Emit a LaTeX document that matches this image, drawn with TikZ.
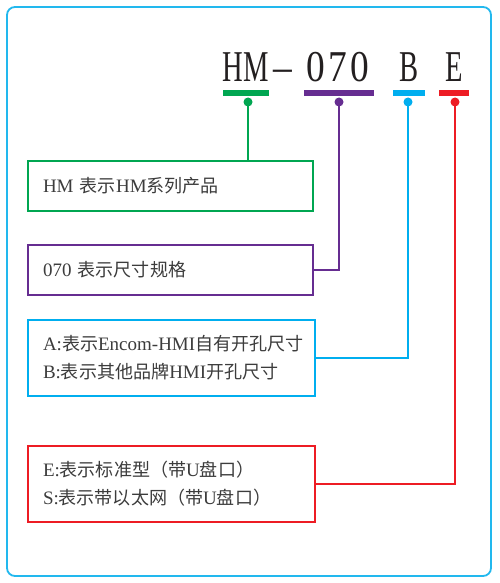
\documentclass[tikz,border=0pt]{standalone}
\usepackage{fontspec}
\setmainfont{Liberation Serif}
\newfontfamily\cjk[Scale=0.95]{Noto Sans CJK SC}
\newfontfamily\titlefont[FakeStretch=0.65]{Liberation Serif}
\newfontfamily\digitfont[FakeStretch=0.85]{Liberation Serif}
\newcommand\zh[1]{{\cjk #1}}
\definecolor{hmgreen}{HTML}{00A651}
\definecolor{sizepurple}{HTML}{662D91}
\definecolor{panelblue}{HTML}{00AEEF}
\definecolor{variantred}{HTML}{ED1C24}
\definecolor{framecyan}{HTML}{22B8EE}
\definecolor{titleblack}{HTML}{231F20}
\definecolor{textgray}{HTML}{3C3C3C}

\begin{document}
\begin{tikzpicture}[
        x=1pt, y=-1pt,
        titlechar/.style={
            anchor=base,
            inner sep=0pt,
            text=titleblack,
            font=\titlefont\fontsize{44}{44}\selectfont
        },
        titledigit/.style={titlechar, font=\digitfont\fontsize{44}{44}\selectfont},
        codebar/.style={fill, inner sep=0pt, minimum height=5.5pt},
        codedot/.style={circle, fill, inner sep=0pt, minimum size=9pt},
        infobox/.style={
            draw,
            line width=2pt,
            align=left,
            inner xsep=15pt,
            inner ysep=0pt,
            text=textgray,
            font=\fontsize{19}{28}\selectfont
        },
        codelink/.style={line width=2pt}
    ]
        \useasboundingbox (0,0) rectangle (499,583);
        \draw[framecyan, line width=1.8pt, rounded corners=8pt] (7,7) rectangle (491,576);

        % model code
        \node[titlechar] (hm) at (245.5,82) {HM};
        \node[titledigit] (dash) at (283,82) {–};
        \node[titledigit] (size) at (338,82) {0\hspace{3pt}7\hspace{3pt}0};
        \node[titlechar] (panel) at (409,82) {B};
        \node[titlechar] (variant) at (454,82) {E};

        \node[codebar, hmgreen, minimum width=46pt] (hmbar) at (246,93) {};
        \node[codebar, sizepurple, minimum width=70pt] (sizebar) at (339,93) {};
        \node[codebar, panelblue, minimum width=32pt] (panelbar) at (409,93) {};
        \node[codebar, variantred, minimum width=30pt] (variantbar) at (454,93) {};

        \node[codedot, hmgreen] (hmdot) at (248,102) {};
        \node[codedot, sizepurple] (sizedot) at (339,102) {};
        \node[codedot, panelblue] (paneldot) at (408,102) {};
        \node[codedot, variantred] (variantdot) at (455,102) {};

        % meaning boxes
        \node[infobox, draw=hmgreen, minimum height=50pt, text width=255pt] (hmbox) at (170.5,186)
            {HM \zh{表示}HM\zh{系列产品}};
        \node[infobox, draw=sizepurple, minimum height=50pt, text width=255pt] (sizebox) at (170.5,269.5)
            {070 \zh{表示尺寸规格}};
        \node[infobox, draw=panelblue, minimum height=76pt, text width=257pt] (panelbox) at (171.5,358)
            {\mbox{A:\zh{表示}Encom-HMI\zh{自有开孔尺寸}}\\\mbox{B:\zh{表示其他品牌}HMI\zh{开孔尺寸}}};
        \node[infobox, draw=variantred, minimum height=76pt, text width=257pt] (variantbox) at (171.5,484)
            {\mbox{E:\zh{表示标准型（带}U\zh{盘口）}}\\\mbox{S:\zh{表示带以太网（带}U\zh{盘口）}}};

        \draw[codelink, hmgreen] (hmdot.center) -- (hmdot.center |- hmbox.north);
        \draw[codelink, sizepurple] (sizedot.center) |- (sizebox.east);
        \draw[codelink, panelblue] (paneldot.center) |- (panelbox.east);
        \draw[codelink, variantred] (variantdot.center) |- (variantbox.east);
    \end{tikzpicture}
\end{document}
